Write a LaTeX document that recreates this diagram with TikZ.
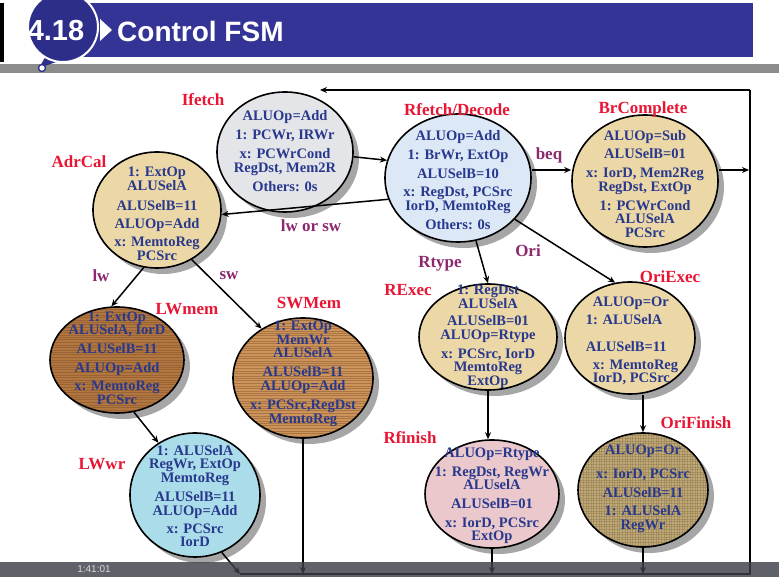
\documentclass[tikz,border=0pt]{standalone}
\usepackage{fontspec}
\setmainfont{Liberation Serif}
\newfontfamily\hdfont{Liberation Sans}
\usetikzlibrary{shapes.geometric,shadows,arrows.meta}

\definecolor{txtblue}{RGB}{40,56,140}
\definecolor{namered}{RGB}{232,22,52}
\definecolor{condpurple}{RGB}{140,40,110}
\definecolor{bannerblue}{RGB}{52,52,150}
\definecolor{badgeblue}{RGB}{44,46,138}
\definecolor{rulegray}{RGB}{140,140,140}
\definecolor{playerbar}{RGB}{60,64,72}
\definecolor{marble}{RGB}{228,229,233}
\definecolor{iceblue}{RGB}{220,232,246}
\definecolor{parchment}{RGB}{236,216,166}
\definecolor{wooddark}{RGB}{178,118,64}
\definecolor{woodlight}{RGB}{204,148,90}
\definecolor{woodgrain}{RGB}{120,72,34}
\definecolor{aqua}{RGB}{170,220,234}
\definecolor{rose}{RGB}{234,200,204}
\definecolor{burlap}{RGB}{192,170,120}
\definecolor{burlapline}{RGB}{140,118,76}

\tikzset{
  stateshape/.style={ellipse, draw=black, line width=1.6pt, inner sep=0pt,
    drop shadow={shadow xshift=6pt, shadow yshift=-6pt, opacity=.35, fill=black}},
  hgrain/.style={path picture={
    \foreach \k/\w in {0/.4,2.8/.7,5.1/.35,8.3/.5,10.6/.8,13.4/.4}{
      \foreach \m in {0,15,...,135}{
        \draw[#1, line width=\w pt, opacity=.4]
          ([yshift=-\k pt-\m pt]path picture bounding box.north west) --
          ([yshift=-\k pt-\m pt]path picture bounding box.north east);}}}},
  weave/.style={path picture={
    \foreach \k in {0,2.6,...,150}{
      \draw[#1, line width=.45pt, opacity=.45]
        ([yshift=-\k pt]path picture bounding box.north west) --
        ([yshift=-\k pt]path picture bounding box.north east);
      \draw[#1, line width=.45pt, opacity=.45]
        ([xshift=\k pt]path picture bounding box.north west) --
        ([xshift=\k pt]path picture bounding box.south west);}}},
  sttext/.style={text=txtblue, inner sep=0pt, align=center,
    font=\fontsize{14.5}{13.5}\selectfont\bfseries},
  stname/.style={text=namered, inner sep=0pt, font=\fontsize{17}{17}\selectfont\bfseries},
  cond/.style={text=condpurple, inner sep=0pt, font=\fontsize{17}{17}\selectfont\bfseries},
  flow/.style={line width=1.5pt, -{Stealth[length=7pt,width=6pt]}},
  bus/.style={line width=1.8pt},
}

\begin{document}
\begin{tikzpicture}[x=1pt,y=-1pt]
\useasboundingbox (0,0) rectangle (779,577);
\fill[white] (0,0) rectangle (779,577);

% ---- title banner ----
\fill[black] (0,3) rectangle (4,62);
\fill[bannerblue] (80,3) rectangle (753,57);
\fill[rulegray] (0,64) rectangle (779,73);
\fill[white] (100,19) -- (112,30) -- (100,41) -- cycle;
\fill[badgeblue] (47,54) -- (39,68) -- (62,60) -- cycle;
\draw[white, line width=2pt, fill=badgeblue] (63,27) circle (35);
\draw[badgeblue, line width=1.3pt, fill=white] (42,68) circle (3.5);
\node[text=white, inner sep=0pt, font=\hdfont\fontsize{29}{29}\selectfont\bfseries]
  (badge) at (56,31) {4.18};
\node[text=white, inner sep=0pt, anchor=west, font=\hdfont\fontsize{28}{28}\selectfont\bfseries]
  (title) at (117,31) {Control FSM};

% ---- state bubbles ----
\node[stateshape, fill=marble, minimum width=136pt, minimum height=120pt] (IF) at (285,152) {};
\node[stateshape, fill=iceblue, minimum width=146pt, minimum height=128pt] (RD) at (458,178) {};
\node[stateshape, fill=parchment, minimum width=146pt, minimum height=132pt] (BC) at (645,181) {};
\node[stateshape, fill=parchment, minimum width=128pt, minimum height=116pt] (AC) at (157,210) {};
\node[stateshape, fill=wooddark, hgrain=woodgrain, minimum width=134pt, minimum height=106pt] (LM) at (117,360) {};
\node[stateshape, fill=woodlight, hgrain=woodgrain, minimum width=140pt, minimum height=120pt] (SM) at (303,378) {};
\node[stateshape, fill=parchment, minimum width=138pt, minimum height=106pt] (RE) at (488,337) {};
\node[stateshape, fill=parchment, minimum width=130pt, minimum height=112pt] (OE) at (630,338) {};
\node[stateshape, fill=aqua, minimum width=130pt, minimum height=124pt] (LW) at (195,495) {};
\node[stateshape, fill=rose, minimum width=134pt, minimum height=108pt] (RF) at (492,494) {};
\node[stateshape, fill=burlap, weave=burlapline, minimum width=130pt, minimum height=114pt] (OF) at (643,490) {};

% ---- bubble contents ----
\node[sttext] (IFt) at (285,151) {ALUOp=Add\\[6pt] 1: PCWr, IRWr\\[5.5pt] x: PCWrCond\\ RegDst, Mem2R\\[6pt] Others: 0s};
\node[sttext] (RDt) at (458,180) {ALUOp=Add\\[5.5pt] 1: BrWr, ExtOp\\[5.5pt] ALUSelB=10\\[5pt] x: RegDst, PCSrc\\ IorD, MemtoReg\\[5.5pt] Others: 0s};
\node[sttext] (BCt) at (645,184) {ALUOp=Sub\\[4.5pt] ALUSelB=01\\[6pt] x: IorD, Mem2Reg\\ RegDst, ExtOp\\[5.5pt] 1: PCWrCond\\ ALUSelA\\ PCSrc};
\node[sttext] (ACt) at (157,214) {1: ExtOp\\ ALUSelA\\[6.5pt] ALUSelB=11\\[5pt] ALUOp=Add\\[4.5pt] x: MemtoReg\\ PCSrc};
\node[sttext] (LMt) at (117,358) {1: ExtOp\\ ALUSelA, IorD\\[5.5pt] ALUSelB=11\\[5pt] ALUOp=Add\\[5pt] x: MemtoReg\\ PCSrc};
\node[sttext] (SMt) at (303,374) {1: ExtOp\\ MemWr\\ ALUSelA\\[5.5pt] ALUSelB=11\\ ALUOp=Add\\[6pt] x: PCSrc,RegDst\\ MemtoReg};
\node[sttext] (REt) at (488,337) {1: RegDst\\ ALUSelA\\[4pt] ALUSelB=01\\ ALUOp=Rtype\\[5.5pt] x: PCSrc, IorD\\ MemtoReg\\ ExtOp};
\node[sttext, align=left] (OEt) at (632,341) {\hspace{7pt}ALUOp=Or\\[4.5pt] 1: ALUSelA\\[13pt] ALUSelB=11\\[4.5pt] \hspace{7pt}x: MemtoReg\\ \hspace{7pt}IorD, PCSrc};
\node[sttext] (LWt) at (195,496) {1: ALUSelA\\ RegWr, ExtOp\\ MemtoReg\\[6pt] ALUSelB=11\\ ALUOp=Add\\[4.5pt] x: PCSrc\\ IorD};
\node[sttext] (RFt) at (492,496) {ALUOp=Rtype\\[5pt] 1: RegDst, RegWr\\ ALUselA\\[5.5pt] ALUSelB=01\\[5pt] x: IorD, PCSrc\\ ExtOp};
\node[sttext] (OFt) at (643,489) {ALUOp=Or\\[10.5pt] x: IorD, PCSrc\\[5.5pt] ALUSelB=11\\[4.5pt] 1: ALUSelA\\ RegWr};

% ---- state names ----
\node[stname] (IFn) at (203,100) {Ifetch};
\node[stname] (RDn) at (457,110) {Rfetch/Decode};
\node[stname] (BCn) at (643,109) {BrComplete};
\node[stname] (ACn) at (79,162) {AdrCal};
\node[stname] (LMn) at (187,309) {LWmem};
\node[stname] (SMn) at (309,303) {SWMem};
\node[stname] (REn) at (408,290) {RExec};
\node[stname] (OEn) at (670,277) {OriExec};
\node[stname] (LWn) at (102,464) {LWwr};
\node[stname] (RFn) at (410,438) {Rfinish};
\node[stname] (OFn) at (696,423) {OriFinish};

% ---- transition conditions ----
\node[cond] (cbeq) at (549,155) {beq};
\node[cond] (clwsw) at (311,226) {lw or sw};
\node[cond] (clw) at (101,276) {lw};
\node[cond] (csw) at (229,276) {sw};
\node[cond] (crt) at (440,264) {Rtype};
\node[cond] (cori) at (528,251) {Ori};

% ---- return path coordinates ----
\coordinate (busL) at (240,574);
\coordinate (busR) at (750,574);
\coordinate (topR) at (750,90);
\coordinate (ifin) at (320,90);
\coordinate (brR) at (749,170);

% ---- transitions ----
\draw[flow] (IF.-4) -- (RD.166);
\draw[flow] (RD.east |- brR) -- (BC.west |- brR);
\draw[flow] (BC.east |- brR) -- (brR);
\draw[flow] (RD.197) -- (AC.-4);
\draw[flow] (RD.-74) -- (RE.north);
\draw[flow] (RD.-36) -- (OE.105);
\draw[flow] (AC.-103) -- (LM.96);
\draw[flow] (AC.-55) -- (SM.130);
\draw[flow] (LM.-72) -- (LW.125);
\draw[flow] (RE.south) -- (RE.south |- RF.north);
\draw[flow] (OE.south -| OF.north) -- (OF.north);
\draw[flow] (LW.-65) -- (busL);
\draw[flow] (SM.south) -- (SM.south |- busL);
\draw[flow] (RF.south) -- (RF.south |- busL);
\draw[flow] (OF.south) -- (OF.south |- busL);
\draw[bus] (busL) -- (busR) -- (topR);
\draw[flow] (topR) -- (ifin);

% ---- media player strip along the lower edge ----
\fill[playerbar, opacity=.82] (0,562) rectangle (779,577);
\node[text=black!15, anchor=north, inner sep=0pt, font=\hdfont\fontsize{10}{10}\selectfont]
  (clock) at (94,565) {1:41:01};
\end{tikzpicture}
\end{document}
